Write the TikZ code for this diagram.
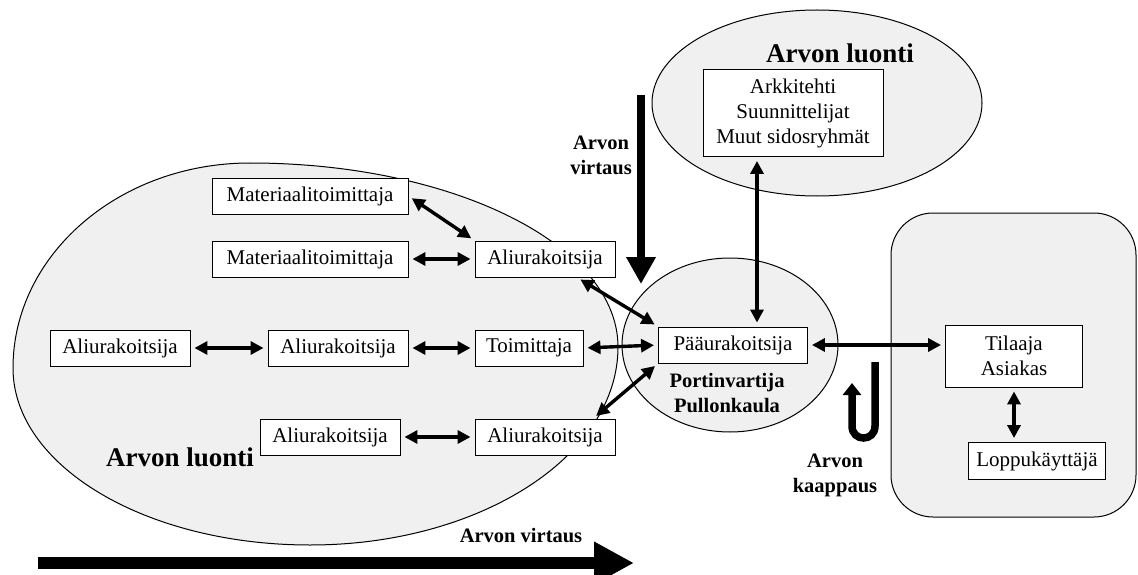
\documentclass[tikz,border=0pt]{standalone}
\usepackage{fontspec}
\setmainfont{Liberation Serif}
\usetikzlibrary{arrows.meta}
\definecolor{shade}{HTML}{F0F0F0}

\begin{document}
\begin{tikzpicture}[x=1pt,y=-1pt,
  font=\fontsize{21}{25}\selectfont,
  box/.style={draw, line width=0.9pt, fill=white, minimum height=36pt,
    minimum width=#1, inner xsep=8pt, inner ysep=3pt, align=center},
  box/.default=0pt,
  region/.style={draw, line width=1pt, fill=shade},
  link/.style={{Triangle[length=13pt,width=13pt]}-{Triangle[length=13pt,width=13pt]},
    line width=3.4pt, shorten <=4pt, shorten >=4pt},
  lbl/.style={font=\fontsize{20.5}{25}\selectfont\bfseries, align=center},
  biglbl/.style={font=\fontsize{27}{30}\selectfont\bfseries},
  flow/.style={line width=#1}]

\useasboundingbox (0,0) rectangle (1138,575);

% shaded areas: the egg-shaped supplier network, the top and middle ovals, the client panel
\draw[region] (13,368)
  .. controls (13,255) and (119,163) .. (250,163)
  .. controls (453,163) and (618,245) .. (618,347)
  .. controls (618,456) and (480,545) .. (310,545)
  .. controls (146,545) and (13,466) .. (13,368) -- cycle;
\draw[region] (730,345) ellipse [x radius=108, y radius=87];
\draw[region] (817,103) ellipse [x radius=165, y radius=93];
\draw[region, rounded corners=42pt] (891,213) rectangle (1136,517);

% parties
\node[box=196pt] (mat1) at (310,196) {Materiaalitoimittaja};
\node[box=196pt] (mat2) at (310,259) {Materiaalitoimittaja};
\node[box=140pt] (aliA) at (545,259) {Aliurakoitsija};
\node[box=140pt] (ali1) at (120,348) {Aliurakoitsija};
\node[box=140pt] (ali2) at (338,348) {Aliurakoitsija};
\node[box=108pt] (toim) at (529,348) {Toimittaja};
\node[box=140pt] (ali3) at (330,437) {Aliurakoitsija};
\node[box=140pt] (ali4) at (545,437) {Aliurakoitsija};
\node[box=149pt] (pau)  at (733,345) {Pääurakoitsija};
\node[box=180pt, minimum height=87pt] (arkk) at (793,113)
  {Arkkitehti\\Suunnittelijat\\Muut sidosryhmät};
\node[box=137pt, minimum height=62pt] (til) at (1014,356)
  {Tilaaja\\Asiakas};
\node[box=135pt, minimum height=37pt] (lop) at (1037,461)
  {Loppukäyttäjä};

% labels
\node[biglbl] (lcL) at (180,457) {Arvon luonti};
\node[biglbl] (lcT) at (840,53) {Arvon luonti};
\node[lbl] (gate) at (727,393) {Portinvartija\\Pullonkaula};
\node[lbl] (vDown) at (601,155) {Arvon\\virtaus};
\node[lbl] (vBot) at (521,536) {Arvon virtaus};
\node[lbl] (capt) at (835,475) {Arvon\\kaappaus};

% two-way links
\draw[link] (mat1.east) -- (aliA.north west);
\draw[link] (mat2.east) -- (aliA.west);
\draw[link] (ali1.east) -- (ali2.west);
\draw[link] (ali2.east) -- (toim.west);
\draw[link] (ali3.east) -- (ali4.west);
\draw[link] (toim.east) -- (pau.west);
\draw[link] (aliA.-30) -- (pau.north west);
\draw[link] (ali4.21) -- (pau.south west);
\coordinate (vx) at (757,0);
\draw[link] (vx |- arkk.south) -- (vx |- pau.north);
\draw[link] (pau.east) -- (pau.east -| til.west);
\draw[link] (til.south) -- (til.south |- lop.north);

% value flow arrows
\coordinate (dTop) at (641,95);
\coordinate (dEnd) at (641,284);
\draw[flow=8pt, -{Triangle[length=27pt,width=28pt]}] (dTop) -- (dEnd);
\coordinate (hStart) at (38,563);
\coordinate (hEnd) at (634,563);
\draw[flow=12pt, -{Triangle[length=40pt,width=40pt]}] (hStart) -- (hEnd);

% value capture turn
\coordinate (uA) at (875,362);
\coordinate (uB) at (875,426);
\coordinate (uE) at (852,426);
\coordinate (uF) at (852,383);
\draw[flow=7.5pt, -{Triangle[length=12pt,width=18pt]}]
  (uA) -- (uB) .. controls (875,442) and (852,442) .. (uE) -- (uF);
\end{tikzpicture}
\end{document}
